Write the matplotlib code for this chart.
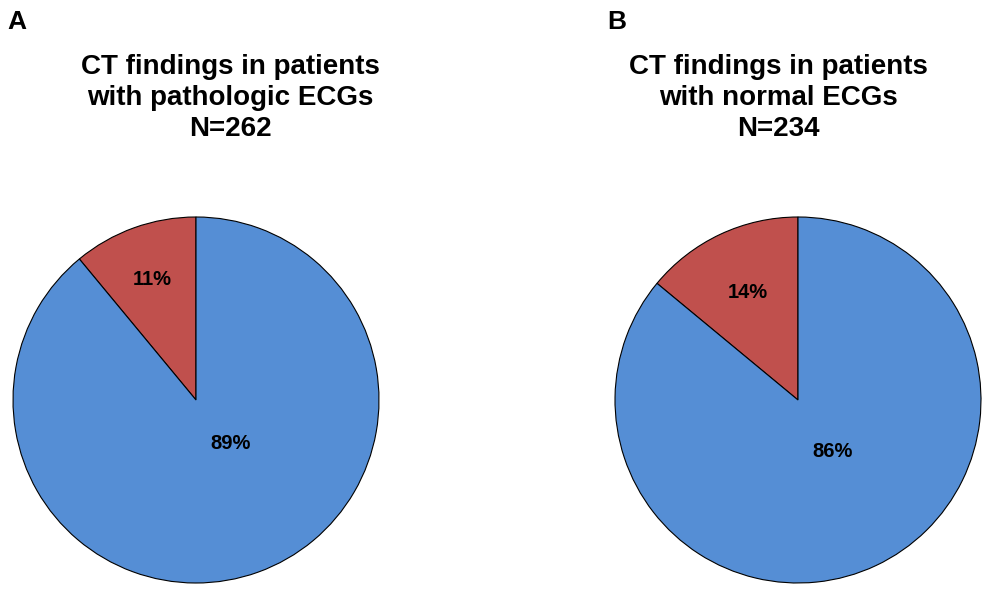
import matplotlib.pyplot as plt

plt.rcParams['font.family'] = ['Liberation Sans', 'DejaVu Sans']

panels = ["A", "B"]
titles = ["CT findings in patients\nwith pathologic ECGs\nN=262",
          "CT findings in patients\nwith normal ECGs\nN=234"]
categories = ["Pathologic CT", "Normal CT"]
shares = [[11, 89], [14, 86]]
colors = ["#C0504D", "#558ED5"]

W, H = 992, 596
fig = plt.figure(figsize=(W / 100, H / 100), dpi=100)

centers = [(196, 400), (798, 400)]
radius = 183
title_x = [230, 778]
pct_dist = [0.70, 0.65]
big_pos = [(0.19, -0.24), (0.19, -0.28)]

for i in range(2):
    cx, cy = centers[i]
    ax = fig.add_axes([(cx - radius) / W, (H - cy - radius) / H,
                       2 * radius / W, 2 * radius / H])
    wedges, texts, autotexts = ax.pie(
        shares[i], colors=colors, startangle=90, counterclock=True,
        autopct="%d%%", pctdistance=pct_dist[i],
        wedgeprops=dict(edgecolor="black", linewidth=0.8, clip_on=False),
        textprops=dict(fontsize=14.5, fontweight="bold", color="black"))
    # the big slice's label sits near the centre, not at the wedge middle
    autotexts[1].set_position(big_pos[i])
    ax.set_xlim(-1, 1)
    ax.set_ylim(-1, 1)
    ax.axis("off")

    fig.text(title_x[i] / W, 1 - 98 / H, titles[i], ha="center", va="center",
             fontsize=20, fontweight="bold", linespacing=1.26)
    fig.text((7 + 600 * i) / W, 1 - 22 / H, panels[i], ha="left", va="center",
             fontsize=19, fontweight="bold")

fig.savefig("out.png", dpi=100)
